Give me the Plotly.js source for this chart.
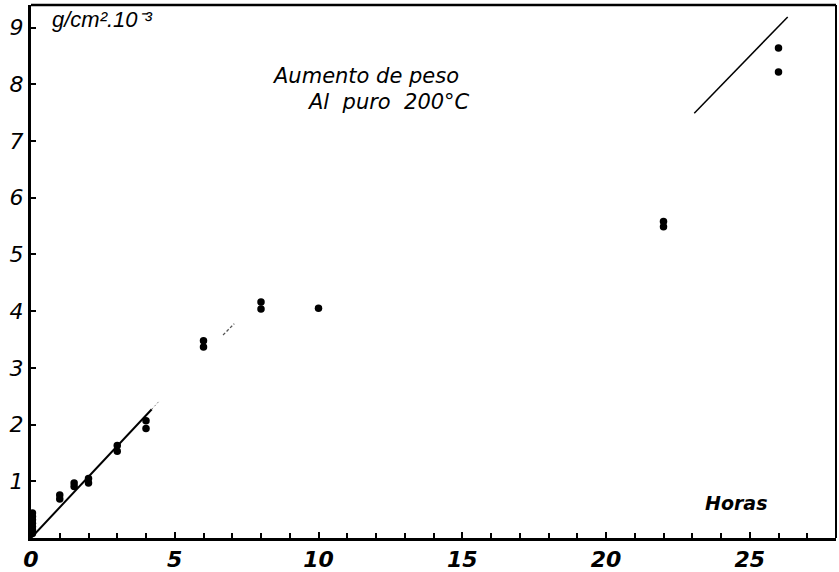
<!DOCTYPE html>
<html>
<head>
<meta charset="utf-8">
<script src="https://cdn.plot.ly/plotly-3.0.1.min.js"></script>
<style>
  html, body { margin: 0; padding: 0; background: #fff; }
  #chart { width: 839px; height: 572px; }
</style>
</head>
<body>
<div id="chart"></div>
<script>
// Weight gain of pure aluminium at 200 °C (g/cm² · 10⁻³) against time in hours
const hours = [0.05, 0.05, 0.05, 0.05, 0.05, 0.05, 0.05,
               1, 1, 1.5, 1.5, 2, 2, 3, 3, 4, 4,
               6, 6, 8, 8, 10, 22, 22, 26, 26];
const gain  = [0.44, 0.38, 0.32, 0.26, 0.20, 0.14, 0.08,
               0.76, 0.69, 0.97, 0.91, 1.05, 0.97, 1.63, 1.53, 2.07, 1.93,
               3.48, 3.37, 4.16, 4.04, 4.05, 5.58, 5.49, 8.64, 8.22];

// Hand-drawn trend lines
const trendLowX  = [0, 4.2];
const trendLowY  = [0, 2.27];
const trendFadeX = [4.2, 4.45];
const trendFadeY = [2.27, 2.41];
const trendMidX  = [6.68, 7.07];
const trendMidY  = [3.58, 3.78];
const trendHighX = [23.07, 26.32];
const trendHighY = [7.49, 9.19];

const xTickVals = [0, 5, 10, 15, 20, 25];
const xTickText = ['0', '5', '10', '15', '20', '25'];
const yTickVals = [0, 1, 2, 3, 4, 5, 6, 7, 8, 9];
const yTickText = ['', '1', '2', '3', '4', '5', '6', '7', '8', '9'];

const handFont = { family: 'DejaVu Sans', size: 22, color: '#000', style: 'italic' };

const traces = [
  { x: trendLowX, y: trendLowY, mode: 'lines', line: { color: '#000', width: 2 }, hoverinfo: 'skip' },
  { x: trendFadeX, y: trendFadeY, mode: 'lines', line: { color: '#888', width: 1, dash: '2px,2px' }, hoverinfo: 'skip' },
  { x: trendMidX, y: trendMidY, mode: 'lines', line: { color: '#555', width: 1.3, dash: '3px,2px' }, hoverinfo: 'skip' },
  { x: trendHighX, y: trendHighY, mode: 'lines', line: { color: '#000', width: 1.5 }, hoverinfo: 'skip' },
  { x: hours, y: gain, mode: 'markers', marker: { color: '#000', size: 7.5 } }
];

const layout = {
  width: 839, height: 572,
  margin: { l: 31, r: 3, t: 5, b: 34 },
  paper_bgcolor: '#fff', plot_bgcolor: '#fff',
  showlegend: false,
  xaxis: {
    range: [0, 28], showgrid: false, zeroline: false,
    showline: true, linecolor: '#000', linewidth: 3,
    tickvals: xTickVals, ticktext: xTickText,
    ticks: 'inside', ticklen: 6, tickwidth: 2, tickcolor: '#000',
    minor: { dtick: 1, ticks: 'inside', ticklen: 5, tickwidth: 2, tickcolor: '#000' },
    tickfont: { family: 'DejaVu Sans', size: 22, color: '#000', style: 'italic', weight: 'bold' },
    ticklabelstandoff: 0
  },
  yaxis: {
    range: [0, 9.4], showgrid: false, zeroline: false,
    showline: true, linecolor: '#000', linewidth: 3,
    tickvals: yTickVals, ticktext: yTickText,
    ticks: 'inside', ticklen: 5, tickwidth: 2, tickcolor: '#000',
    tickfont: handFont,
    ticklabelstandoff: 0
  },
  shapes: [
    { type: 'line', xref: 'paper', yref: 'paper', x0: 0, x1: 1, y0: 1, y1: 1, line: { color: '#000', width: 2.5 } },
    { type: 'line', xref: 'paper', yref: 'paper', x0: 1, x1: 1, y0: 0, y1: 1, line: { color: '#000', width: 2 } }
  ],
  annotations: [
    { x: 0.67, y: 9.14, xanchor: 'left', yanchor: 'middle', showarrow: false,
      text: 'g/cm².10⁻³', font: { family: 'Liberation Sans', size: 22, color: '#000', style: 'italic' } },
    { x: 8.33, y: 8.15, xanchor: 'left', yanchor: 'middle', showarrow: false,
      text: 'Aumento de peso', font: { family: 'DejaVu Sans', size: 21, color: '#000', style: 'italic' } },
    { x: 9.54, y: 7.69, xanchor: 'left', yanchor: 'middle', showarrow: false,
      text: 'Al  puro  200°C', font: { family: 'DejaVu Sans', size: 21, color: '#000', style: 'italic' } },
    { x: 23.39, y: 0.62, xanchor: 'left', yanchor: 'middle', showarrow: false,
      text: 'Horas', font: { family: 'DejaVu Sans', size: 19, color: '#000', style: 'italic', weight: 'bold' } }
  ]
};

Plotly.newPlot('chart', traces, layout, { displayModeBar: false, staticPlot: true });
</script>
</body>
</html>
